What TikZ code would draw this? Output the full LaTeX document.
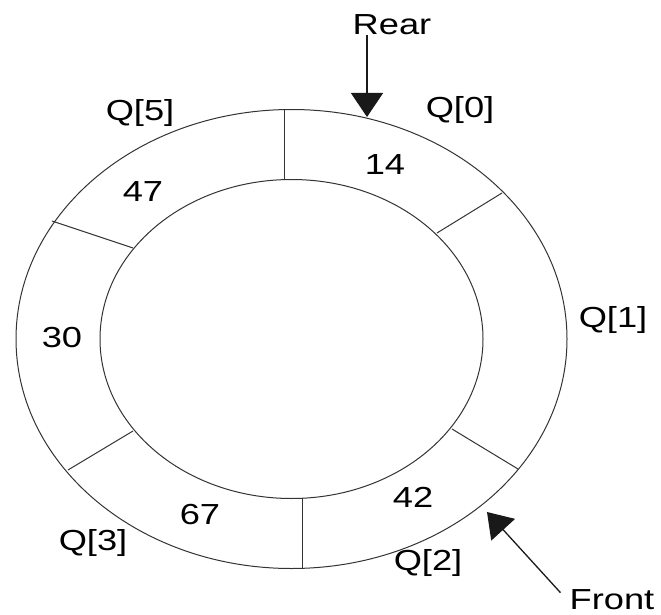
\documentclass[tikz,border=0pt]{standalone}
\usepackage{fontspec}
\usepackage{graphicx}
\setmainfont{Liberation Sans}
\usetikzlibrary{arrows.meta,calc}
\newcommand{\widetxt}[1]{\scalebox{1.25}[1]{#1}}
\begin{document}
\begin{tikzpicture}[x=1pt,y=-1pt,
  ring/.style={line width=1pt, draw=black!80},
  divider/.style={line width=1pt, draw=black!80},
  lbl/.style={font=\fontsize{29}{34}\selectfont, inner sep=0pt},
  ptr/.style={line width=1.3pt, draw=black!90, -{Triangle[width=32pt,length=24pt]}}]
\useasboundingbox (0,0) rectangle (661,615);
% rings
\coordinate (c) at (291.5,339);
\draw[ring] (c) ellipse [x radius=275.5, y radius=229.5];
\draw[ring] (c) ellipse [x radius=191.5, y radius=159.5];
% division points
\coordinate (o0) at (284,109);  \coordinate (i0) at (284,179);
\coordinate (o1) at (502,193);  \coordinate (i1) at (437,233);
\coordinate (o2) at (518,469);  \coordinate (i2) at (452,429);
\coordinate (o3) at (302,568);  \coordinate (i3) at (302,498);
\coordinate (o4) at (68,470);   \coordinate (i4) at (133,431);
\coordinate (o5) at (52,221);   \coordinate (i5) at (133,248);
\foreach \k in {0,...,5} \draw[divider] (o\k) -- (i\k);
% values
\node[lbl] (v14) at (385,165) {\widetxt{14}};
\node[lbl] (v47) at (143,192) {\widetxt{47}};
\node[lbl] (v30) at (62,338) {\widetxt{30}};
\node[lbl] (v67) at (200,515) {\widetxt{67}};
\node[lbl] (v42) at (413,497) {\widetxt{42}};
% index labels
\node[lbl] (q0) at (460,110) {\widetxt{Q[0]}};
\node[lbl] (q1) at (613,320) {\widetxt{Q[1]}};
\node[lbl] (q2) at (428,563) {\widetxt{Q[2]}};
\node[lbl] (q3) at (93,543) {\widetxt{Q[3]}};
\node[lbl] (q5) at (140,113) {\widetxt{Q[5]}};
% pointers
\node[lbl] (rear) at (392,25) {\widetxt{Rear}};
\node[lbl] (front) at (612,600) {\widetxt{Front}};
\coordinate (rt) at (367,117);
\coordinate (ft) at (487,512);
\draw[ptr] (rear.south -| rt) -- (rt);
\draw[ptr] ($(front.north west)+(-9,3)$) -- (ft);
\end{tikzpicture}
\end{document}
